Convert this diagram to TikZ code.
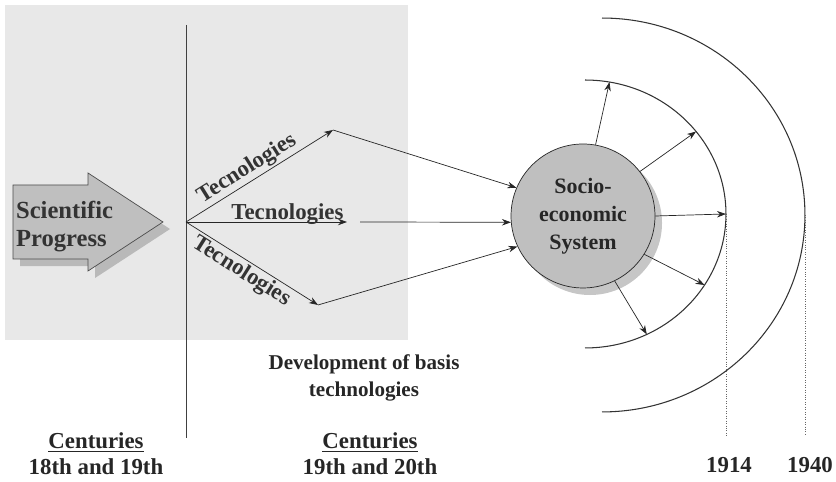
\documentclass[tikz,border=0pt]{standalone}
\usepackage{fontspec}
\setmainfont{Liberation Serif}
\usetikzlibrary{positioning, arrows.meta, calc, shadows}

\begin{document}
\begin{tikzpicture}[
    x=0.02cm, y=0.02cm,
    arrow/.style={-{Stealth[length=1.8mm, width=1.3mm]}, thin, black!85},
    tech/.style={font=\fontsize{13}{15}\selectfont\bfseries, text=black!80, inner sep=1pt},
    caption/.style={font=\fontsize{13}{14.7}\selectfont\bfseries, text=black!85, align=center},
    yearline/.style={densely dotted, black!60, thin},
    ring/.style={black!80, semithick},
    shade/.style={drop shadow={shadow xshift=4pt, shadow yshift=-4pt, opacity=0.45}},
]
\useasboundingbox (0,0) rectangle (836,482);
\fill[gray!18] (5,142) rectangle (408,477);
\draw[black!75] (186,457) -- (186,44);

% scientific progress arrow
\filldraw[fill=gray!50, draw=black!70, shade]
    (13,223) -- (88,223) -- (88,211) -- (163,260) -- (88,309) -- (88,297) -- (13,297) -- cycle;
\node[tech, anchor=west, align=left, font=\fontsize{14}{16}\selectfont\bfseries] (sci) at (14,255) {Scientific\\Progress};

\coordinate (o) at (186,260);
\coordinate (u) at (333,352);
\coordinate (mid) at (347,260);
\coordinate (m2) at (360,260);
\coordinate (l) at (318,177);

\node[circle, draw=black!85, fill=gray!50, minimum size=2.88cm, inner sep=0pt, shade,
      caption, font=\fontsize{12.5}{16}\selectfont\bfseries] (soc) at (583,266) {Socio-\\economic\\System};

\draw[arrow] (o) -- node[tech, sloped, above, pos=0.46] (t1) {Tecnologies} (u);
\draw[arrow] (o) -- node[tech, pos=0.63, anchor=base, yshift=1.7pt] (t2) {Tecnologies} (mid);
\draw[arrow] (o) -- node[tech, sloped, below, pos=0.47] (t3) {Tecnologies} (l);
\draw[arrow] (u) -- (soc.157);
\draw[arrow] (m2) -- (soc.185);
\draw[arrow] (l) -- (soc.205);

% rings
\coordinate (ic) at (585,268);
\coordinate (oc) at (602,267);
\draw[ring] ($(ic)+(90:2.82cm and 2.68cm)$) arc[start angle=90, end angle=-90, x radius=2.82cm, y radius=2.68cm];
\draw[ring] ($(oc)+(90:4.06cm and 3.94cm)$) arc[start angle=90, end angle=-90, x radius=4.06cm, y radius=3.94cm];
\foreach \a [count=\i] in {80,38,0,-32,-64} {
    \coordinate (r\i) at ($(ic)+(\a:2.82cm and 2.68cm)$);
    \draw[arrow] (soc.\a) -- (r\i);
}

% years
\coordinate (y1) at ($(ic)+(2.82cm,0)$);
\coordinate (y2) at ($(oc)+(4.06cm,0)$);
\node[caption] (y1914) at (729,17) {1914};
\node[caption] (y1940) at (810,17) {1940};
\draw[yearline, shorten >=0.3cm] (y1) -- (y1 |- y1914.north);
\draw[yearline, shorten >=0.3cm] (y2) -- (y2 |- y1940.north);

\node[caption] (cent1) at (96,28) {\underline{Centuries}\\18th and 19th};
\node[caption] (cent2) at (370,28) {\underline{Centuries}\\19th and 20th};
\node[caption, font=\fontsize{12}{15.3}\selectfont\bfseries] (dev) at (364,104) {Development of basis\\technologies};
\end{tikzpicture}
\end{document}
